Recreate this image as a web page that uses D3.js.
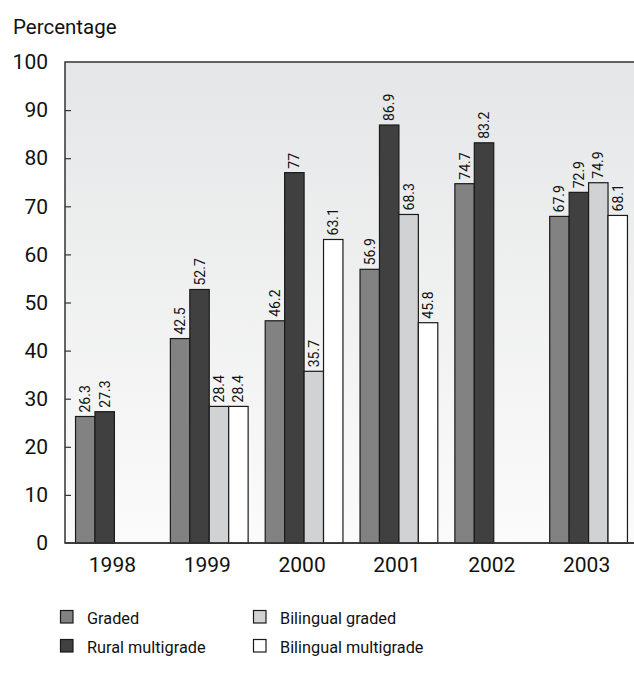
<!DOCTYPE html>
<html><head><meta charset="utf-8">
<script src="https://cdn.jsdelivr.net/npm/d3@7"></script>
<style>body{margin:0;background:#fff}svg{display:block}</style>
</head><body>
<script>
const years = ["1998","1999","2000","2001","2002","2003"];
const seriesNames = ["Graded","Rural multigrade","Bilingual graded","Bilingual multigrade"];
const graded = [26.3, 42.5, 46.2, 56.9, 74.7, 67.9];
const ruralMultigrade = [27.3, 52.7, 77, 86.9, 83.2, 72.9];
const bilingualGraded = [null, 28.4, 35.7, 68.3, null, 74.9];
const bilingualMultigrade = [null, 28.4, 63.1, 45.8, null, 68.1];
const yTicks = [0,10,20,30,40,50,60,70,80,90,100];
const colors = ["#828282","#404040","#d1d2d4","#ffffff"];

const allSeries = [graded, ruralMultigrade, bilingualGraded, bilingualMultigrade];
const W = 634, H = 673;
const font = "Roboto,'Liberation Sans',sans-serif";
const svg = d3.select("body").append("svg").attr("width", W).attr("height", H)
  .style("font-family", font);

const pLeft = 65, pTop = 62, pBottom = 543, pRight = 642;
const y = d3.scaleLinear().domain([0,100]).range([pBottom, pTop]);
const x = d3.scaleBand().domain(years).range([67, 636]).paddingInner(0.18).paddingOuter(0.09);
const xs = d3.scaleBand().domain(d3.range(4)).range([0, x.bandwidth()]);

const defs = svg.append("defs");
const grad = defs.append("linearGradient").attr("id","bg").attr("x1",0).attr("y1",0).attr("x2",0).attr("y2",1);
grad.append("stop").attr("offset","0%").attr("stop-color","#e5e6e7");
grad.append("stop").attr("offset","100%").attr("stop-color","#fbfbfb");

svg.append("rect").attr("x", pLeft).attr("y", pTop).attr("width", pRight-pLeft).attr("height", pBottom-pTop)
  .attr("fill","url(#bg)").attr("stroke","#333").attr("stroke-width",1.5);

// y axis
const yAxis = d3.axisLeft(y).tickValues(yTicks).tickSize(-6).tickPadding(17).tickFormat(d3.format("d"));
const ya = svg.append("g").attr("transform",`translate(${pLeft},0)`).call(yAxis);
ya.select(".domain").remove();
ya.selectAll(".tick line").attr("stroke","#333").attr("stroke-width",1.2);
ya.selectAll(".tick text").attr("font-size",21).attr("fill","#111").style("font-family",font);
ya.selectAll(".tick").filter(d => d===0 || d===100).select("line").remove();

// x axis labels
const xAxis = d3.axisBottom(x).tickSize(0).tickPadding(14);
const xa = svg.append("g").attr("transform",`translate(0,${pBottom})`).call(xAxis);
xa.select(".domain").remove();
xa.selectAll(".tick text").attr("font-size",21).attr("fill","#111").style("font-family",font).attr("dx",-2);

// bars
const bars = [];
allSeries.forEach((arr, s) => arr.forEach((v, i) => { if (v != null) bars.push({s, i, v}); }));
const g = svg.append("g");
g.selectAll("rect").data(bars).join("rect")
  .attr("x", d => x(years[d.i]) + xs(d.s))
  .attr("y", d => y(d.v))
  .attr("width", xs.bandwidth())
  .attr("height", d => pBottom - y(d.v))
  .attr("fill", d => colors[d.s]).attr("stroke","#1a1a1a").attr("stroke-width",1.2);

g.selectAll("text").data(bars).join("text")
  .attr("transform", d => `translate(${x(years[d.i]) + xs(d.s) + xs.bandwidth()/2 + 5},${y(d.v) - 4}) rotate(-90)`)
  .attr("font-size",14).attr("fill","#111").text(d => String(d.v));

svg.append("line").attr("x1",pLeft).attr("x2",pRight).attr("y1",pBottom).attr("y2",pBottom).attr("stroke","#333").attr("stroke-width",1.5);

svg.append("text").attr("x",13).attr("y",34).attr("font-size",20.5).attr("fill","#111").text("Percentage");

// legend
const legPos = [[60,616.5],[60,645.5],[253,616.5],[253,645.5]];
const leg = svg.append("g");
seriesNames.forEach((n, k) => {
  const [lx, ly] = legPos[k];
  leg.append("rect").attr("x", lx+0.5).attr("y", ly-6).attr("width",12.5).attr("height",12.5)
    .attr("fill", colors[k]).attr("stroke","#1a1a1a").attr("stroke-width",1.2);
  leg.append("text").attr("x", lx+27).attr("y", ly+7).attr("font-size",16.3).attr("fill","#111").text(n);
});
</script>
</body></html>
